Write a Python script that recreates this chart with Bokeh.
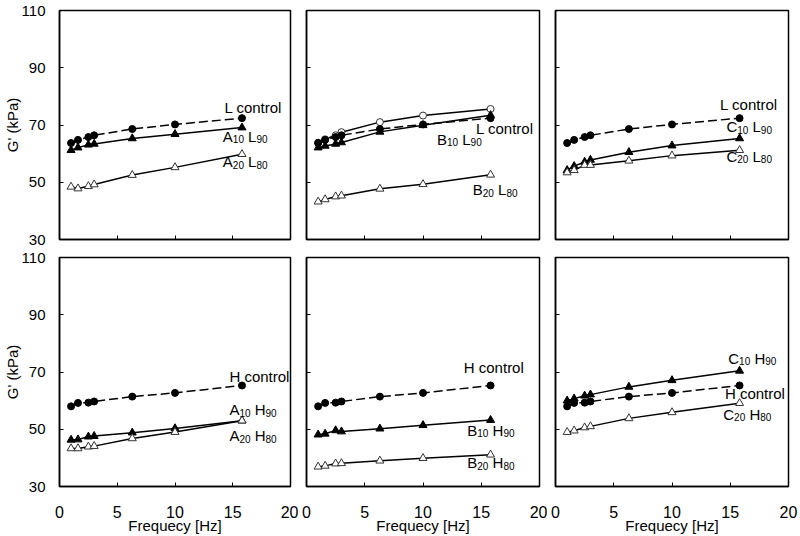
import math
from bokeh.plotting import figure
from bokeh.layouts import row, column
from bokeh.models import FixedTicker, Range1d, Label
from bokeh.embed import file_html
from bokeh.resources import INLINE

FONT = "Liberation Sans"

# ---------------- data ----------------
freq = [1.0, 1.6, 2.5, 3.0, 6.3, 10.0, 15.8]
x_ticks = [0, 5, 10, 15, 20]
y_ticks = [30, 50, 70, 90, 110]

L_control = [63.7, 64.8, 65.8, 66.4, 68.6, 70.2, 72.4]
H_control = [58.0, 59.2, 59.3, 59.7, 61.4, 62.7, 65.3]

A10_L90 = [61.2, 62.1, 63.1, 63.4, 65.3, 66.8, 69.1]
A20_L80 = [48.4, 47.8, 48.6, 49.2, 52.5, 55.2, 59.8]
B_open_L = [63.8, 65.0, 66.4, 67.5, 71.0, 73.3, 75.6]
B10_L90 = [62.1, 62.7, 63.4, 63.9, 67.6, 69.9, 73.4]
B20_L80 = [43.2, 44.0, 45.0, 45.3, 47.7, 49.3, 52.6]
C10_L90 = [54.2, 55.6, 57.1, 57.8, 60.5, 62.8, 65.3]
C20_L80 = [53.4, 54.2, 56.0, 56.0, 57.5, 59.3, 61.2]

A10_H90 = [46.3, 46.4, 47.4, 47.6, 48.8, 50.3, 53.0]
A20_H80 = [43.3, 43.3, 43.9, 44.1, 46.8, 49.0, 53.0]
B10_H90 = [48.1, 48.4, 49.6, 49.2, 50.2, 51.4, 53.2]
B20_H80 = [36.9, 37.2, 38.0, 38.1, 39.0, 39.9, 41.1]
C10_H90 = [60.0, 60.7, 61.7, 62.1, 64.8, 67.1, 70.4]
C20_H80 = [49.0, 49.5, 50.6, 51.0, 53.8, 55.9, 59.1]

# ---------------- styling helpers ----------------
MAIN = 15
SUB = 10
LIFT = 5
WIDTHS = {'A': 667, 'B': 667, 'C': 722, 'H': 722, 'L': 556, ' ': 278,
          'c': 500, 'o': 556, 'n': 556, 't': 278, 'r': 333, 'l': 222}
for d in "0123456789":
    WIDTHS[d] = 556


def twidth(s, size):
    return sum(WIDTHS.get(c, 556) for c in s) / 1000.0 * size


def add_label(p, x, y, parts):
    """parts: list of (text, is_subscript); ' ' entries only advance."""
    off = 0.0
    for txt, sub in parts:
        size = SUB if sub else MAIN
        if txt.strip():
            p.add_layout(Label(x=x, y=y, x_offset=off, y_offset=LIFT - (3 if sub else 0),
                               text=txt, text_font=FONT, text_font_size=f"{size}px",
                               text_baseline="alphabetic", text_align="left",
                               text_color="black"))
        off += twidth(txt, size)


def name_parts(letter, n1, base, n2):
    return [(letter, False), (n1, True), (" ", False), (base, False), (n2, True)]


def draw_series(p, vals, kind):
    if kind == "ctrl":
        p.line(freq, vals, line_color="black", line_width=1.5, line_dash="9 4")
        p.scatter(freq, vals, marker="circle", size=7, fill_color="black", line_color="black")
    elif kind == "ftri":
        p.line(freq, vals, line_color="black", line_width=1.5)
        p.scatter(freq, vals, marker="triangle", size=8, fill_color="black", line_color="black")
    elif kind == "otri":
        p.line(freq, vals, line_color="black", line_width=1.5)
        p.scatter(freq, vals, marker="triangle", size=8, fill_color="white", line_color="#333333", line_width=1)
    elif kind == "ocirc":
        p.line(freq, vals, line_color="black", line_width=1.5)
        p.scatter(freq, vals, marker="circle", size=7, fill_color="white", line_color="#333333", line_width=1)


FRAME_W = 233
FRAME_H = 229


def make_panel(col, rw, series, labels):
    left_b = [57, 8, 8][col]
    right_b = [8, 8, 12][col]
    top_b = [10, 9][rw]
    bot_b = [9, 50][rw]
    p = figure(width=left_b + FRAME_W + right_b, height=top_b + FRAME_H + bot_b,
               x_range=Range1d(0, 20), y_range=Range1d(30, 110),
               output_backend="svg", toolbar_location=None,
               min_border_left=left_b, min_border_right=right_b,
               min_border_top=top_b, min_border_bottom=bot_b,
               background_fill_color="white", border_fill_color="white")
    p.grid.visible = False
    p.outline_line_color = "black"
    p.outline_line_width = 1.5
    p.outline_line_alpha = 1.0
    for ax in (p.xaxis[0], p.yaxis[0]):
        ax.axis_line_color = "black"
        ax.axis_line_width = 1.5
        ax.major_tick_in = 4
        ax.major_tick_out = 0
        ax.major_tick_line_color = "black"
        ax.minor_tick_line_color = None
        ax.major_label_text_font = FONT
        ax.major_label_text_color = "black"
    p.xaxis.ticker = FixedTicker(ticks=x_ticks)
    p.yaxis.ticker = FixedTicker(ticks=y_ticks)

    if col == 0:
        p.yaxis.major_label_text_font_size = "15px"
        p.yaxis.major_label_standoff = 14
        p.yaxis.axis_label = "G' (kPa)"
        p.yaxis.axis_label_text_font = FONT
        p.yaxis.axis_label_text_font_size = "15px"
        p.yaxis.axis_label_text_font_style = "normal"
        p.yaxis.axis_label_text_color = "black"
        p.yaxis.axis_label_standoff = -2
    else:
        p.yaxis.major_label_text_font_size = "0px"
        p.yaxis.major_label_text_color = None
        p.yaxis.major_label_standoff = 0

    if rw == 1:
        p.xaxis.major_label_text_font_size = "16px"
        p.xaxis.major_label_standoff = 19
        p.xaxis.axis_label = "Frequecy [Hz]"
        p.xaxis.axis_label_text_font = FONT
        p.xaxis.axis_label_text_font_size = "15px"
        p.xaxis.axis_label_text_font_style = "normal"
        p.xaxis.axis_label_text_color = "black"
        p.xaxis.axis_label_standoff = -4
    else:
        p.xaxis.major_label_text_font_size = "0px"
        p.xaxis.major_label_text_color = None
        p.xaxis.major_label_standoff = 0

    for vals, kind in series:
        draw_series(p, vals, kind)
    for (x, y, parts) in labels:
        add_label(p, x, y, parts)
    return p


ctrl_L = [("L control", False)]
ctrl_H = [("H control", False)]

pA = make_panel(0, 0, [(L_control, "ctrl"), (A10_L90, "ftri"), (A20_L80, "otri")],
                [(14.28, 74.3, ctrl_L),
                 (14.14, 64.3, name_parts("A", "10", "L", "90")),
                 (14.14, 55.4, name_parts("A", "20", "L", "80"))])
pB = make_panel(1, 0, [(B_open_L, "ocirc"), (L_control, "ctrl"), (B10_L90, "ftri"), (B20_L80, "otri")],
                [(14.55, 67.0, ctrl_L),
                 (11.2, 63.3, name_parts("B", "10", "L", "90")),
                 (14.27, 45.7, name_parts("B", "20", "L", "80"))])
pC = make_panel(2, 0, [(L_control, "ctrl"), (C10_L90, "ftri"), (C20_L80, "otri")],
                [(14.13, 75.4, ctrl_L),
                 (14.67, 67.6, name_parts("C", "10", "L", "90")),
                 (14.67, 57.4, name_parts("C", "20", "L", "80"))])
pD = make_panel(0, 1, [(H_control, "ctrl"), (A10_H90, "ftri"), (A20_H80, "otri")],
                [(14.71, 66.6, ctrl_H),
                 (14.71, 55.0, name_parts("A", "10", "H", "90")),
                 (14.71, 46.0, name_parts("A", "20", "H", "80"))])
pE = make_panel(1, 1, [(H_control, "ctrl"), (B10_H90, "ftri"), (B20_H80, "otri")],
                [(13.5, 69.8, ctrl_H),
                 (13.8, 47.9, name_parts("B", "10", "H", "90")),
                 (13.8, 36.6, name_parts("B", "20", "H", "80"))])
pF = make_panel(2, 1, [(H_control, "ctrl"), (C10_H90, "ftri"), (C20_H80, "otri")],
                [(14.83, 73.0, name_parts("C", "10", "H", "90")),
                 (14.54, 60.7, ctrl_H),
                 (14.4, 53.5, name_parts("C", "20", "H", "80"))])

layout = column(row(pA, pB, pC), row(pD, pE, pF))

open("out.html", "w").write(file_html(layout, INLINE))
